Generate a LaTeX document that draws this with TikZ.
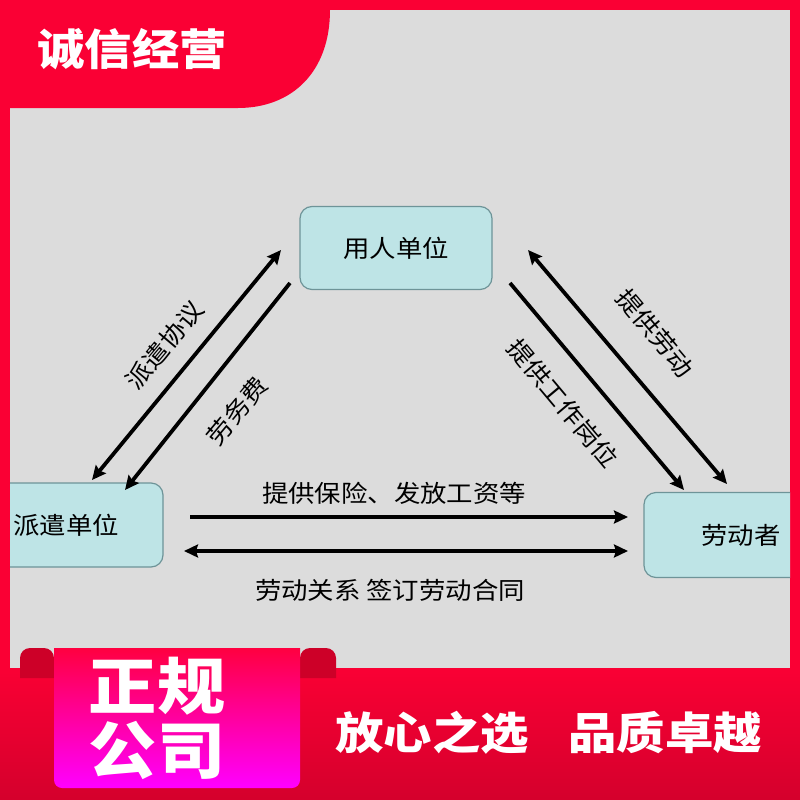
\documentclass[tikz,border=0pt]{standalone}
\usepackage{fontspec}
\newfontfamily\cjk[FakeStretch=1.1]{Noto Sans CJK SC}
\usetikzlibrary{arrows.meta}

\definecolor{bannerred}{RGB}{250,0,52}
\definecolor{panelgray}{RGB}{220,220,220}
\definecolor{boxfill}{RGB}{190,228,230}
\definecolor{boxline}{RGB}{110,148,152}
\definecolor{folddark}{RGB}{205,0,40}
\definecolor{ribbontop}{RGB}{255,0,64}
\definecolor{ribbonbot}{RGB}{255,0,255}

\tikzset{
  unit/.style={draw=boxline, line width=1.2pt, fill=boxfill, rounded corners=12pt,
    font=\cjk\fontsize{24}{24}\selectfont},
  flow/.style={line width=3.8pt, -{Stealth[length=14pt,width=13pt,inset=2pt]}},
  twoway/.style={line width=3.8pt, {Stealth[length=14pt,width=13pt,inset=2pt]}-{Stealth[length=14pt,width=13pt,inset=2pt]}},
  lbl/.style={font=\cjk\fontsize{24}{24}\selectfont, inner sep=0pt},
  slogan/.style={text=white, font=\cjk\bfseries\fontsize{44}{44}\selectfont, inner sep=0pt}
}

\begin{document}
\begin{tikzpicture}[x=1pt,y=-1pt]
	\useasboundingbox (0,0) rectangle (800,800);
	
	% Background
	\fill[bannerred] (0,0) rectangle (800,800);
	\shade[top color=bannerred, bottom color=bannerred!85!black] (0,668) rectangle (800,800);
	\fill[panelgray] (10,10) rectangle (790,668);
	
	% Title tab
	\fill[bannerred] (10,10) -- (330,10) .. controls (330,72) and (292,108) .. (238,108) -- (10,108) -- cycle;
	\node[slogan, font=\cjk\bfseries\fontsize{43}{43}\selectfont] (title) at (132,49) {诚信经营};
	
	% Units
	\begin{scope}
		\clip (10,10) rectangle (790,668);
		\node[unit, minimum width=192pt, minimum height=83pt] (user) at (396,248) {用人单位};
		\node[unit, minimum width=194pt, minimum height=84pt] (agency) at (66,525) {派遣单位};
		\node[unit, minimum width=194pt, minimum height=85pt] (worker) at (741,535) {劳动者};
	\end{scope}
	
	% Arrow ends
	\coordinate (pa1) at (92,480);
	\coordinate (pa2) at (281,250);
	\coordinate (lf1) at (290,283);
	\coordinate (lf2) at (125,490);
	\coordinate (tl1) at (528,250);
	\coordinate (tl2) at (727,484);
	\coordinate (tg1) at (510,283);
	\coordinate (tg2) at (684,490);
	\coordinate (bx1) at (190,517);
	\coordinate (bx2) at (628,517);
	\coordinate (ht1) at (184,551);
	\coordinate (ht2) at (628,551);
	
	% Arrows
	\draw[twoway] (pa1) -- (pa2);
	\draw[flow] (lf1) -- (lf2);
	\draw[twoway] (tl1) -- (tl2);
	\draw[flow] (tg1) -- (tg2);
	\draw[flow] (bx1) -- (bx2);
	\draw[twoway] (ht1) -- (ht2);
	
	% Arrow labels
	\node[lbl, rotate=50] (dispatch) at (165,345) {派遣协议};
	\node[lbl, rotate=50] (fee) at (237,411) {劳务费};
	\node[lbl, rotate=-50] (labour) at (655,333) {提供劳动};
	\node[lbl, rotate=-50] (post) at (563,403) {提供工作岗位};
	\node[lbl] (insure) at (394,493) {提供保险、发放工资等};
	\node[lbl] (contract) at (390,590) {劳动关系 签订劳动合同};
	
	% Ribbon
	\fill[folddark] (54,678) -- (20,678) {[rounded corners=10pt] -- (20,648) -- (54,648)} -- cycle;
	\fill[folddark] (300,678) -- (336,678) {[rounded corners=10pt] -- (336,648) -- (300,648)} -- cycle;
	\shade[top color=ribbontop, bottom color=ribbonbot] (54,648) -- (300,648) {[rounded corners=8pt] -- (300,788) -- (54,788)} -- cycle;
	\node[slogan, font=\cjk\bfseries\fontsize{62}{62}\selectfont] (zheng) at (157,686) {正规};
	\node[slogan, font=\cjk\bfseries\fontsize{62}{62}\selectfont] (gongsi) at (157,750) {公司};
	
	% Slogans
	\node[slogan] (safe) at (432,733) {放心之选};
	\node[slogan] (quality) at (665,733) {品质卓越};
	
\end{tikzpicture}
\end{document}
